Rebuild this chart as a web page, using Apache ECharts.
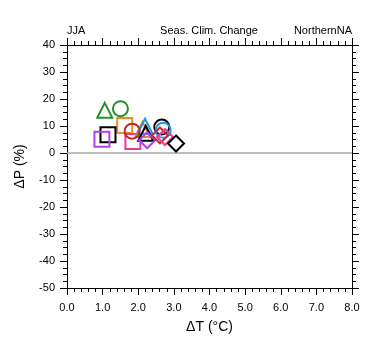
<!DOCTYPE html>
<html><head><meta charset="utf-8">
<script src="https://cdn.jsdelivr.net/npm/echarts@6/dist/echarts.min.js"></script>
<style>html,body{margin:0;padding:0;background:#fff}#c{width:380px;height:355px}</style>
</head><body><div id="c"></div>
<script>
// Data: [dT (°C), dP (%)]
const triangles = [
  {color: '#22922A', value: [1.06, 15.8]},
  {color: '#F0891E', value: [2.12, 8.7]},
  {color: '#2596E6', value: [2.19, 9.9]},
  {color: '#000000', value: [2.21, 7.3]}
];
const circles = [
  {color: '#22922A', value: [1.50, 16.4]},
  {color: '#C0282B', value: [1.83, 8.1]},
  {color: '#000000', value: [2.66, 9.6]},
  {color: '#2596E6', value: [2.70, 8.4]}
];
const squares = [
  {color: '#F0891E', value: [1.62, 10.2]},
  {color: '#000000', value: [1.15, 6.8]},
  {color: '#B040F0', value: [0.98, 5.1]},
  {color: '#E8389A', value: [1.85, 4.3]}
];
const diamonds = [
  {color: '#B040F0', value: [2.25, 4.7]},
  {color: '#C0282B', value: [2.61, 6.5]},
  {color: '#E8389A', value: [2.75, 5.9]},
  {color: '#000000', value: [3.06, 3.5]}
];
const xTicks = [0, 1, 2, 3, 4, 5, 6, 7, 8];
const yTicks = [-50, -40, -30, -20, -10, 0, 10, 20, 30, 40];
const titleLeft = 'JJA', titleCenter = 'Seas. Clim. Change', titleRight = 'NorthernNA';

const FONT = '"Liberation Sans", Arial, Helvetica, sans-serif';
const chart = echarts.init(document.getElementById('c'), null, {renderer: 'canvas'});

function mk(list, symbol, size) {
  return list.map(d => ({
    type: 'scatter', symbol: symbol, symbolSize: size,
    data: [d.value],
    itemStyle: {color: 'rgba(0,0,0,0)', borderColor: d.color, borderWidth: 2, opacity: 1},
    emphasis: {disabled: true}, z: 5
  }));
}

const axisLine = {show: true, onZero: false, lineStyle: {color: '#000', width: 1}};
const xCommon = {
  type: 'value', min: xTicks[0], max: xTicks[xTicks.length - 1], interval: 1,
  axisLine: axisLine, splitLine: {show: false},
  axisTick: {show: true, inside: false, length: 7, lineStyle: {color: '#000'}},
  minorTick: {show: true, splitNumber: 5, length: 4, lineStyle: {color: '#000'}}
};
const yCommon = {
  type: 'value', min: yTicks[0], max: yTicks[yTicks.length - 1], interval: 10,
  axisLine: axisLine, splitLine: {show: false},
  axisTick: {show: true, inside: false, length: 7, lineStyle: {color: '#000'}},
  minorTick: {show: true, splitNumber: 4, length: 4, lineStyle: {color: '#000'}}
};

const series = [].concat(
  [{
    type: 'line', data: [], silent: true,
    markLine: {silent: true, symbol: 'none', label: {show: false},
      lineStyle: {color: '#AAAAAA', width: 1.5, type: 'solid'},
      data: [{yAxis: 0}]},
    z: 1
  }],
  mk(squares, 'rect', 15),
  mk(triangles, 'triangle', 15),
  mk(circles, 'circle', 15),
  mk(diamonds, 'diamond', 16)
);

chart.setOption({
  animation: false,
  backgroundColor: '#fff',
  grid: {left: 67, right: 28, top: 45, bottom: 67},
  xAxis: [
    Object.assign({}, xCommon, {
      position: 'bottom',
      axisLabel: {show: true, margin: 14, color: '#000', fontSize: 11, fontFamily: FONT,
        formatter: v => v.toFixed(1)},
      name: 'ΔT (°C)', nameLocation: 'middle', nameGap: 32,
      nameTextStyle: {color: '#000', fontSize: 14, fontFamily: FONT}
    }),
    Object.assign({}, xCommon, {position: 'top', axisLabel: {show: false}})
  ],
  yAxis: [
    Object.assign({}, yCommon, {
      position: 'left',
      axisLabel: {show: true, margin: 12, color: '#000', fontSize: 11, fontFamily: FONT},
      name: 'ΔP (%)', nameLocation: 'middle', nameGap: 40,
      nameTextStyle: {color: '#000', fontSize: 14, fontFamily: FONT}
    }),
    Object.assign({}, yCommon, {position: 'right', axisLabel: {show: false}})
  ],
  graphic: [
    {type: 'text', x: 67, y: 25, style: {text: titleLeft, fontSize: 11, fontFamily: FONT, fill: '#000', textAlign: 'left'}},
    {type: 'text', x: 209, y: 25, style: {text: titleCenter, fontSize: 11, fontFamily: FONT, fill: '#000', textAlign: 'center'}},
    {type: 'text', x: 352, y: 25, style: {text: titleRight, fontSize: 11, fontFamily: FONT, fill: '#000', textAlign: 'right'}}
  ],
  series: series
});
</script>
</body></html>
